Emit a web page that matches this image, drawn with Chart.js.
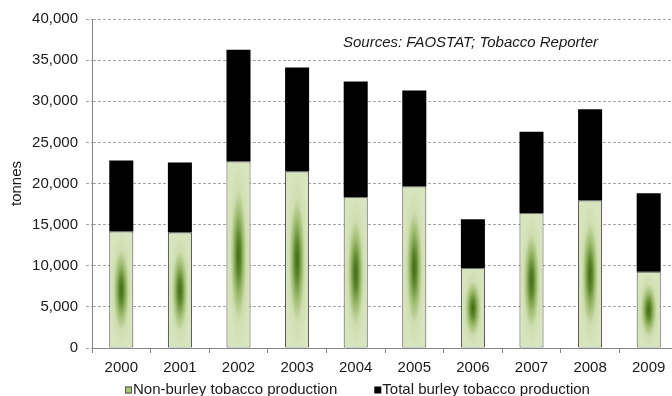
<!DOCTYPE html>
<html>
<head>
<meta charset="utf-8">
<title>Tobacco production</title>
<script src="https://cdn.jsdelivr.net/npm/chart.js@4.4.0/dist/chart.umd.min.js"></script>
<style>
  html, body { margin: 0; padding: 0; background: #fff; }
  #frame { width: 672px; height: 396px; overflow: hidden; }
  #holder { position: relative; width: 680px; height: 396px; }
</style>
</head>
<body>
<div id="frame"><div id="holder"><canvas id="tobaccoChart"></canvas></div></div>
<script>
// Production by year, tonnes
const years = ['2000', '2001', '2002', '2003', '2004', '2005', '2006', '2007', '2008', '2009'];
const nonBurley = [14150, 14030, 22660, 21450, 18330, 19630, 9690, 16380, 17920, 9280];
const burley = [8650, 8510, 13590, 12650, 14070, 11670, 5970, 9920, 11120, 9520];
const yMax = 40000;
const yStep = 5000;
const seriesLabels = ['Non-burley tobacco production', 'Total burley tobacco production'];
const sourceNote = 'Sources: FAOSTAT; Tobacco Reporter';

const FONT = 'Liberation Sans, Arial, sans-serif';
const TEXT = '#1a1a1a';
const LIGHT_GREEN = '#d7e4bd';
const AXIS_GREY = '#868686';

// Shades the green bars darker toward their middle
const barShading = {
    id: 'barShading',
    afterDatasetDraw(chart, args) {
        if (args.index !== 0) return;
        const ctx = chart.ctx;
        args.meta.data.forEach(bar => {
            const p = bar.getProps(['x', 'y', 'base', 'width'], true);
            const left = p.x - p.width / 2 + 1;
            const top = Math.min(p.y, p.base) + 1;
            const w = p.width - 2;
            const h = Math.max(p.y, p.base) - top;
            if (w <= 0 || h <= 0) return;
            ctx.save();
            ctx.beginPath();
            ctx.rect(left, top, w, h);
            ctx.clip();
            ctx.translate(left + w / 2, top + h / 2);
            ctx.scale(w / 2, h / 2);
            const g = ctx.createRadialGradient(0, 0, 0, 0, 0, 1);
            g.addColorStop(0, '#45691a');
            g.addColorStop(0.2, '#5c872c');
            g.addColorStop(0.45, '#9fbc70');
            g.addColorStop(0.7, '#cfdeb0');
            g.addColorStop(1, LIGHT_GREEN);
            ctx.fillStyle = g;
            ctx.fillRect(-1, -1, 2, 2);
            ctx.restore();
        });
    }
};

// Source note and legend row
const annotations = {
    id: 'annotations',
    afterDraw(chart) {
        const ctx = chart.ctx;
        ctx.save();
        ctx.fillStyle = TEXT;
        ctx.font = 'italic 15px ' + FONT;
        ctx.textBaseline = 'middle';
        ctx.textAlign = 'left';
        ctx.fillText(sourceNote, 343, 43);

        ctx.font = '15px ' + FONT;
        const box = 7;
        const legendY = 390;
        let x = 125;
        seriesLabels.forEach((label, i) => {
            const by = legendY - box / 2;
            if (i === 0) {
                ctx.fillStyle = '#a9c479';
                ctx.fillRect(x, by, box, box);
                ctx.strokeStyle = '#555';
                ctx.lineWidth = 1;
                ctx.strokeRect(x + 0.5, by + 0.5, box - 1, box - 1);
            } else {
                ctx.fillStyle = '#000';
                ctx.fillRect(x, by, box, box);
            }
            ctx.fillStyle = TEXT;
            ctx.fillText(label, x + box + 1, legendY);
            x += box + 1 + ctx.measureText(label).width + 37;
        });
        ctx.restore();
    }
};

new Chart(document.getElementById('tobaccoChart'), {
    type: 'bar',
    data: {
        labels: years,
        datasets: [{
            label: seriesLabels[0],
            data: nonBurley,
            backgroundColor: LIGHT_GREEN,
            borderColor: '#3c3c3c',
            borderWidth: 1,
            borderSkipped: false,
            barPercentage: 0.41,
            categoryPercentage: 1
        }, {
            label: seriesLabels[1],
            data: burley,
            backgroundColor: '#000',
            borderWidth: 0,
            barPercentage: 0.41,
            categoryPercentage: 1
        }]
    },
    options: {
        responsive: true,
        maintainAspectRatio: false,
        animation: false,
        layout: { padding: { top: 19, right: 2, left: 0, bottom: 0 } },
        plugins: {
            legend: { display: false },
            tooltip: { enabled: false }
        },
        scales: {
            x: {
                stacked: true,
                afterFit(scale) { scale.height = 48; },
                grid: {
                    display: true,
                    drawOnChartArea: false,
                    drawTicks: true,
                    tickLength: 5,
                    color: AXIS_GREY,
                    offset: true
                },
                border: { display: true, color: AXIS_GREY },
                ticks: {
                    color: TEXT,
                    padding: 6,
                    maxRotation: 0,
                    font: { family: FONT, size: 15 }
                }
            },
            y: {
                stacked: true,
                min: 0,
                max: yMax,
                afterFit(scale) { scale.width = 92; },
                grid: {
                    color: '#a6a6a6',
                    tickLength: 6,
                    tickBorderDash: [3, 2]
                },
                border: { display: true, color: AXIS_GREY, dash: [3, 2] },
                title: {
                    display: true,
                    text: 'tonnes',
                    color: TEXT,
                    padding: { top: 8, bottom: 0 },
                    font: { family: FONT, size: 15 }
                },
                ticks: {
                    stepSize: yStep,
                    padding: 8,
                    color: TEXT,
                    font: { family: FONT, size: 15 },
                    callback: value => value.toLocaleString('en-US')
                }
            }
        }
    },
    plugins: [barShading, annotations]
});
</script>
</body>
</html>
